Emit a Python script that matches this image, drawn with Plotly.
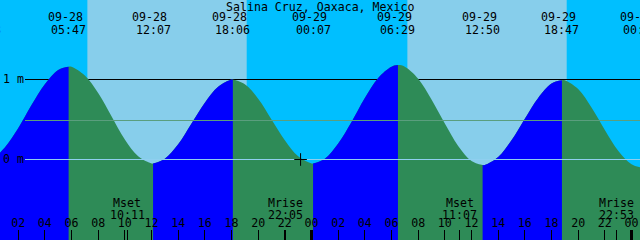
import plotly.graph_objects as go

# ---------------- data ----------------
title = "Salina Cruz, Oaxaca, Mexico"

# hours since 09-28 00:00 and tide height (m)
hours = [-0.62, 0, 1, 2, 3, 4, 5, 5.783,
         6, 7, 8, 9, 10, 11, 12, 12.117,
         13, 14, 15, 16, 17, 18, 18.1,
         19, 20, 21, 22, 23, 24, 24.117,
         25, 26, 27, 28, 29, 30, 30.483,
         31, 32, 33, 34, 35, 36, 36.833,
         37, 38, 39, 40, 41, 42, 42.783,
         43, 44, 45, 46, 47, 48, 48.7]
heights = [-0.03, 0.00, 0.15, 0.39, 0.68, 0.94, 1.12, 1.16,
           1.16, 1.05, 0.83, 0.54, 0.25, 0.04, -0.05, -0.05,
           0.01, 0.19, 0.45, 0.71, 0.91, 1.00, 1.00,
           0.94, 0.76, 0.50, 0.24, 0.04, -0.05, -0.05,
           0.01, 0.20, 0.47, 0.77, 1.02, 1.16, 1.18,
           1.16, 1.01, 0.75, 0.45, 0.17, -0.02, -0.07,
           -0.07, 0.03, 0.24, 0.51, 0.77, 0.95, 0.99,
           0.99, 0.88, 0.65, 0.37, 0.11, -0.06, -0.10]

# tide extremes
ext_hours = [-0.62, 5.783, 12.117, 18.1, 24.117, 30.483, 36.833, 42.783, 48.7]
ext_kinds = ["low", "high", "low", "high", "low", "high", "low", "high", "low"]
ext_dates = ["09-27", "09-28", "09-28", "09-28", "09-29", "09-29", "09-29", "09-29", "09-30"]
ext_clock = ["23:23", "05:47", "12:07", "18:06", "00:07", "06:29", "12:50", "18:47", "00:42"]

# sun
sunrise_hours = [7.19, 31.19]
sunset_hours = [19.14, 43.14]

# moon
moon_hours = [10.183, 22.083, 35.117, 46.883]
moon_kinds = ["Mset", "Mrise", "Mset", "Mrise"]
moon_clock = ["10:11", "22:05", "11:07", "22:53"]

# axis ticks
tick_hours = [2, 4, 6, 8, 10, 12, 14, 16, 18, 20, 22, 24,
              26, 28, 30, 32, 34, 36, 38, 40, 42, 44, 46, 48]
tick_labels = ["02", "04", "06", "08", "10", "12", "14", "16", "18", "20", "22", "00",
               "02", "04", "06", "08", "10", "12", "14", "16", "18", "20", "22", "00"]
midnight_hours = [24, 48]
now_hour = 23.18

datum_level = 0.0
msl_level = 0.4875
mark_levels = [1.0]
level_labels = ["1 m", "0 m"]
level_values = [1.0, 0.0]

# ---------------- style ----------------
W, H = 640, 240
X0, X1 = 0.6375, 48.6375
Y0, Y1 = -1.00625, 1.99375
YBASE = -1.3
NIGHT = "#00BFFF"
DAY = "#87CEEB"
FLOOD = "#0000FF"
EBB = "#2E8B57"
FONT = dict(family="DejaVu Sans Mono", size=11.6, color="black")
LINE_START = X0 + 25 / W * (X1 - X0)


def xpaper(h):
    return (h - X0) / (X1 - X0)


def ypaper(px):
    return 1 - px / H


fig = go.Figure()

# whole water body (ebb colour), then flood segments on top
fig.add_trace(go.Scatter(x=[ext_hours[0], ext_hours[-1]], y=[YBASE, YBASE], mode="lines",
                         line=dict(width=0), hoverinfo="skip"))
fig.add_trace(go.Scatter(x=hours, y=heights, mode="lines",
                         line=dict(width=0, shape="spline", smoothing=1, color=EBB),
                         fill="tonexty", fillcolor=EBB, hoverinfo="skip"))
for i in range(len(ext_hours) - 1):
    if ext_kinds[i] != "low":
        continue
    t0, t1 = ext_hours[i], ext_hours[i + 1]
    xs = [t for t in hours if t0 <= t <= t1]
    ys = [h for t, h in zip(hours, heights) if t0 <= t <= t1]
    fig.add_trace(go.Scatter(x=[t0, t1], y=[YBASE, YBASE], mode="lines",
                             line=dict(width=0), hoverinfo="skip"))
    fig.add_trace(go.Scatter(x=xs, y=ys, mode="lines",
                             line=dict(width=0, shape="spline", smoothing=1, color=FLOOD),
                             fill="tonexty", fillcolor=FLOOD, hoverinfo="skip"))

# mean sea level and datum lines (over the water)
fig.add_trace(go.Scatter(x=[LINE_START, X1], y=[msl_level, msl_level], mode="lines",
                         line=dict(color="#5A9E7E", width=1), hoverinfo="skip"))
fig.add_trace(go.Scatter(x=[LINE_START, X1], y=[datum_level, datum_level], mode="lines",
                         line=dict(color="#8FCFEF", width=1), hoverinfo="skip"))

# current time cross
fig.add_trace(go.Scatter(x=[now_hour], y=[datum_level], mode="markers",
                         marker=dict(symbol="cross-thin", size=9,
                                     line=dict(width=1, color="black")),
                         hoverinfo="skip"))

shapes = []
for sr, ss in zip(sunrise_hours, sunset_hours):
    shapes.append(dict(type="rect", xref="x", yref="paper", x0=sr, x1=ss, y0=0, y1=1,
                       fillcolor=DAY, line=dict(width=0), layer="below"))
for lv in mark_levels:
    shapes.append(dict(type="line", xref="paper", yref="y", x0=25 / W, x1=1, y0=lv, y1=lv,
                       line=dict(color="black", width=1), layer="below"))
for mh in midnight_hours:
    shapes.append(dict(type="line", xref="x", yref="paper", x0=mh, x1=mh, y0=0, y1=10 / H,
                       line=dict(color="black", width=3), layer="above"))

ann = []
ann.append(dict(text=title, xref="paper", yref="paper", x=0.5, y=ypaper(6.5),
                xanchor="center", yanchor="middle", showarrow=False, font=FONT))
for h, d, c in zip(ext_hours, ext_dates, ext_clock):
    ann.append(dict(text=d, xref="paper", yref="paper", x=xpaper(h), xshift=-3.5, y=ypaper(17.5),
                    xanchor="center", yanchor="middle", showarrow=False, font=FONT))
    ann.append(dict(text=c, xref="paper", yref="paper", x=xpaper(h), y=ypaper(29.5),
                    xanchor="center", yanchor="middle", showarrow=False, font=FONT))
for h, k, c in zip(moon_hours, moon_kinds, moon_clock):
    ann.append(dict(text=k, xref="paper", yref="paper", x=xpaper(h), y=ypaper(203),
                    xanchor="center", yanchor="middle", showarrow=False, font=FONT))
    ann.append(dict(text=c, xref="paper", yref="paper", x=xpaper(h), y=ypaper(214.5),
                    xanchor="center", yanchor="middle", showarrow=False, font=FONT))
for lab, v in zip(level_labels, level_values):
    ann.append(dict(text=lab, xref="paper", yref="y", x=1 / W, y=v, yshift=1,
                    xanchor="left", yanchor="middle", showarrow=False, font=FONT))

fig.update_layout(
    width=W, height=H, margin=dict(l=0, r=0, t=0, b=0),
    paper_bgcolor=NIGHT, plot_bgcolor=NIGHT, showlegend=False,
    shapes=shapes, annotations=ann,
    xaxis=dict(range=[X0, X1], showgrid=False, zeroline=False, showline=False,
               automargin=False, fixedrange=True,
               tickmode="array", tickvals=tick_hours, ticktext=tick_labels,
               ticks="inside", ticklen=10, tickwidth=1, tickcolor="black",
               ticklabelposition="inside", tickfont=FONT,
               minor=dict(tickmode="array", tickvals=moon_hours, ticks="inside",
                          ticklen=10, tickwidth=1, tickcolor="black")),
    yaxis=dict(range=[Y0, Y1], visible=False, showgrid=False, zeroline=False,
               automargin=False, fixedrange=True),
)

fig.write_html("out.html")
